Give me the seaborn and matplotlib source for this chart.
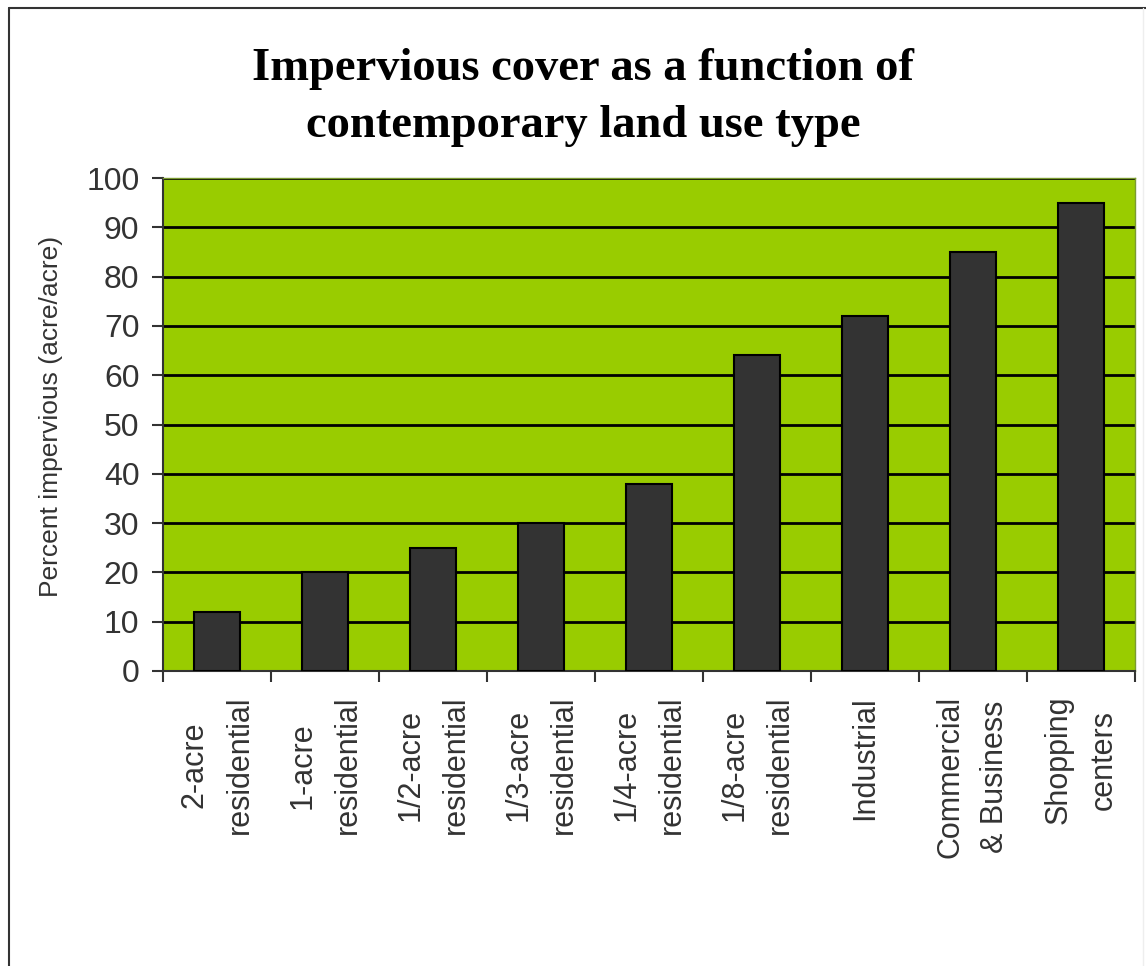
import matplotlib
matplotlib.use("Agg")
import matplotlib.pyplot as plt
from matplotlib.lines import Line2D
import numpy as np
import pandas as pd
import seaborn as sns

# data
categories = ["2-acre\nresidential", "1-acre\nresidential", "1/2-acre\nresidential",
              "1/3-acre\nresidential", "1/4-acre\nresidential", "1/8-acre\nresidential",
              "Industrial", "Commercial\n& Business", "Shopping\ncenters"]
percent_impervious = [12, 20, 25, 30, 38, 64, 72, 85, 95]
y_ticks = [0, 10, 20, 30, 40, 50, 60, 70, 80, 90, 100]

df = pd.DataFrame({"land_use": categories, "impervious": percent_impervious})

sns.set_style("white")
plt.rcParams["font.family"] = ["Liberation Sans", "DejaVu Sans"]

fig = plt.figure(figsize=(11.46, 9.66), dpi=100)
ax = fig.add_axes([163 / 1146, 1 - 671 / 966, 972 / 1146, 493 / 966])
ax.set_facecolor("#99CC00")

sns.barplot(data=df, x="land_use", y="impervious", color="#333333", saturation=1,
            edgecolor="black", linewidth=1.5, width=0.42, ax=ax, zorder=3)

ax.set_ylim(0, 100)
ax.set_xlim(-0.5, len(categories) - 0.5)
ax.set_yticks(y_ticks)
ax.yaxis.grid(True, color="black", linewidth=2)
ax.set_axisbelow(True)

# tick marks between categories, labels at the centres
ax.set_xticks(np.arange(len(categories) + 1) - 0.5, minor=True)
ax.tick_params(axis="x", which="major", length=0, pad=18, labelsize=22)
ax.tick_params(axis="x", which="minor", length=8, width=1.5, color="#333333", bottom=True)
ax.tick_params(axis="y", length=8, width=1.5, color="#333333", left=True, pad=9,
               labelsize=23, labelcolor="#333333")
for lab in ax.get_xticklabels():
    lab.set_rotation(90)
    lab.set_va("top")
    lab.set_ha("center")
    lab.set_multialignment("center")
    lab.set_linespacing(1.65)
    lab.set_color("#333333")

ax.set_xlabel("")
ax.set_ylabel("Percent impervious (acre/acre)", fontsize=19, color="#333333")
ax.yaxis.set_label_coords(-0.103, 0.517)

for side in ["left", "bottom"]:
    ax.spines[side].set_color("#333333")
    ax.spines[side].set_linewidth(1.5)
for side in ["top", "right"]:
    ax.spines[side].set_color("#7a9a30")
    ax.spines[side].set_linewidth(1)

fig.text(583 / 1146, 1 - 48 / 966, "Impervious cover as a function of\ncontemporary land use type",
         ha="center", va="top", fontsize=33.5, fontweight="bold", family="Liberation Serif",
         color="black", linespacing=1.48)

# outer frame (left and top edges are dark, right edge only faint)
fx0, fx1 = 9 / 1146, 1143 / 1146
fy1 = 1 - 8 / 966
fig.add_artist(Line2D([fx0, fx0], [0, fy1], color="#333333", linewidth=1.5))
fig.add_artist(Line2D([fx0, 1], [fy1, fy1], color="#333333", linewidth=1.5))
fig.add_artist(Line2D([fx1, fx1], [fy1, 0], color="#eeeeee", linewidth=1))

fig.savefig("out.png", dpi=100)
